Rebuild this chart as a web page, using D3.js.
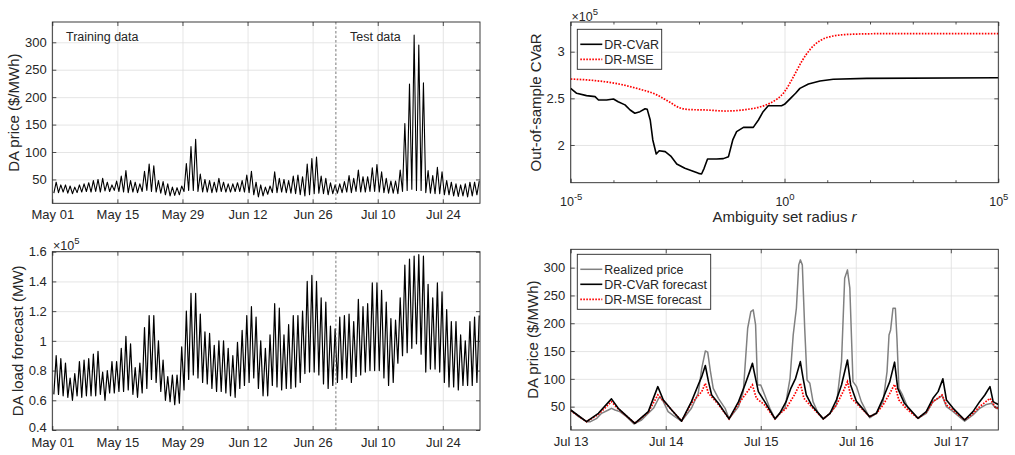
<!DOCTYPE html>
<html><head><meta charset="utf-8">
<script src="https://cdn.jsdelivr.net/npm/d3@7"></script>
<style>body{margin:0;background:#fff}svg{display:block}</style>
</head><body><svg id="c" width="1015" height="455"></svg>
<script>
// ================= DATA =================
// Panel 1/2: daily troughs & peaks, day 0 = May 01
const dateTickLabels = ["May 01","May 15","May 29","Jun 12","Jun 26","Jul 10","Jul 24"];
const splitLabelTrain = "Training data";
const splitLabelTest = "Test data";
const pricePeaks = [45,40,40,38,36,40,42,44,48,50,52,45,40,47,
 56,66,48,45,42,65,78,75,48,46,42,36,35,38,
 79,110,123,60,50,48,45,52,45,42,42,44,48,58,
 65,45,40,36,38,64,52,50,48,56,58,55,78,88,
 91,56,52,44,40,42,46,57,52,67,55,55,71,77,
 64,52,47,47,67,152,224,313,295,226,66,57,72,64,
 48,45,42,40,42,45,45,47];
const priceTroughs = [25,26,27,25,24,26,27,28,27,28,27,29,28,30,
 28,27,26,27,26,28,30,28,27,25,22,20,21,22,
 28,30,30,28,27,27,26,27,28,27,27,28,28,27,
 26,22,18,20,23,26,26,27,26,25,24,22,20,22,
 24,25,24,22,24,25,26,27,26,28,27,27,28,28,
 27,26,25,25,24,28,30,32,30,30,26,25,24,24,
 22,22,20,19,20,18,20,22];
const priceYTicks = [50,100,150,200,250,300];
const loadPeaks = [0.90,0.88,0.85,0.75,0.78,0.86,0.87,0.88,0.91,0.93,0.79,0.80,0.86,0.86,
 0.95,1.03,0.98,0.82,0.85,1.09,1.17,1.17,1.00,0.87,0.76,0.77,0.77,0.96,
 1.20,1.32,1.32,1.18,1.06,1.05,0.97,1.00,1.00,0.95,0.90,0.99,1.07,1.17,
 1.23,1.16,1.00,0.95,1.04,1.25,1.22,1.04,1.11,1.17,1.17,1.20,1.40,1.44,
 1.40,1.29,1.26,1.10,1.08,1.16,1.17,1.18,1.13,1.28,1.23,1.25,1.39,1.39,
 1.34,1.26,1.15,1.14,1.29,1.51,1.55,1.57,1.58,1.57,1.38,1.29,1.39,1.33,
 1.21,1.13,1.13,1.04,1.00,1.13,1.16,1.17];
const loadTroughs = [0.64,0.64,0.63,0.62,0.60,0.63,0.62,0.63,0.63,0.63,0.64,0.60,0.65,0.65,
 0.66,0.66,0.67,0.64,0.62,0.65,0.68,0.74,0.72,0.66,0.60,0.59,0.57,0.58,
 0.67,0.74,0.77,0.75,0.72,0.71,0.68,0.66,0.66,0.65,0.63,0.62,0.68,0.70,
 0.72,0.75,0.68,0.63,0.63,0.70,0.69,0.67,0.68,0.68,0.69,0.72,0.78,0.79,
 0.79,0.77,0.71,0.68,0.70,0.72,0.74,0.75,0.72,0.76,0.77,0.79,0.80,0.80,
 0.80,0.75,0.70,0.72,0.85,0.90,0.92,0.95,0.98,0.91,0.79,0.81,0.81,0.79,
 0.72,0.69,0.69,0.67,0.70,0.70,0.70,0.72];
const loadYTicks = [0.4,0.6,0.8,1,1.2,1.4,1.6];

// Panel 3: out-of-sample CVaR (x10^5) vs log10(radius)
const cvarRExp = [-5,-4.86,-4.63,-4.43,-4.35,-4.16,-4.0,-3.89,-3.73,-3.61,-3.5,-3.38,-3.26,-3.21,-3.14,-3.08,-3.0,-2.93,-2.79,-2.66,-2.52,-2.33,-2.17,-2.01,-1.94,-1.88,-1.8,-1.59,-1.43,-1.31,-1.21,-1.12,-0.96,-0.73,-0.61,-0.5,-0.38,-0.07,0,0.14,0.26,0.36,0.56,0.83,1.14,1.92,5];
const cvarVals = [2.607,2.554,2.529,2.518,2.482,2.482,2.493,2.464,2.43,2.375,2.34,2.357,2.389,2.382,2.268,2.054,1.904,1.939,1.929,1.882,1.796,1.75,1.725,1.696,1.689,1.75,1.85,1.85,1.854,1.875,2.054,2.143,2.189,2.189,2.268,2.357,2.421,2.421,2.436,2.5,2.554,2.607,2.654,2.686,2.704,2.714,2.721];
const mseRExp = [-5,-4.43,-3.95,-3.4,-3.0,-2.69,-2.46,-2.23,-1.84,-1.37,-0.9,-0.56,-0.33,0,0.21,0.4,0.6,0.83,1.14,1.53,2.31,5];
const mseVals = [2.707,2.69,2.66,2.60,2.54,2.46,2.40,2.38,2.375,2.364,2.38,2.41,2.45,2.571,2.732,2.893,3.025,3.118,3.168,3.186,3.193,3.193];
const cvarYTicks = [2,2.5,3];
const radiusTickExp = [-5,0,5];
const radiusMinorExp = [-4,-3,-2,-1,1,2,3,4];
const legend3 = ["DR-CVaR","DR-MSE"];

// Panel 4: forecasts, x in axis-hours from Jul 13
const fcTickLabels = ["Jul 13","Jul 14","Jul 15","Jul 16","Jul 17"];
const realized = [[0,44],[2,32],[4,23],[5,23],[6.6,29],[7.8,38],[9.5,44],[10.3,47],[11.2,44],[12.4,41],[14.1,32],[16,19],[17.9,26],[19.6,38],[20.9,47],[22,62],[22.5,68],[23.4,59],[24.6,41],[26.3,32],[28,24],
 [30.5,47],[32.2,74],[33.1,119],[34,150],[34.6,148],[35.3,113],[36,83],[37.3,65],[39,47],[40,28],
 [42.4,50],[43.6,77],[44.7,191],[45.5,221],[46.1,224],[46.7,197],[47.2,89],[48,89],[49,71],[50.3,47],[51.6,28],
 [52.8,38],[54.1,47],[55.4,101],[56.2,179],[57,227],[57.6,305],[58,314],[58.5,305],[59.1,191],[59.7,98],[60.4,92],[61.2,59],[62.5,38],[63.8,28],
 [65.5,38],[67.1,53],[68.4,131],[69.2,281],[69.9,296],[70.5,263],[71.3,95],[72.2,86],[73.4,59],[75.5,30],
 [77.2,38],[78.9,59],[79.9,113],[80.4,179],[80.8,188],[81.4,227],[82,227],[82.4,173],[82.9,83],[83.8,71],[85.2,47],[87.7,29],
 [89.8,38],[91.5,59],[92.8,65],[93.8,70],[94.9,50],[96.6,41],[99.5,24],
 [101.6,35],[103.3,47],[105,54],[106.3,56],[107.4,47],[108,46]];
const cvarForecast = [[0,44],[4,23],[7,38],[10.3,64],[12,47],[16.2,20],[19.6,41],[22,86],[23.4,62],[25.5,44],[28,24],
 [30.5,59],[32.2,89],[33.1,104],[34,124],[34.8,95],[35.6,71],[37.3,56],[40,28],
 [42.4,59],[44,89],[45.2,113],[45.9,128],[46.5,107],[47.4,77],[49,59],[51.6,28],
 [52.8,38],[54.4,59],[55.6,83],[56.8,101],[58,131],[58.7,101],[59.5,71],[60.8,53],[63.8,28],
 [65.5,38],[67.1,62],[68.4,89],[69.9,134],[70.7,89],[72.2,59],[75.5,32],
 [77.2,38],[78.9,65],[80.6,95],[81.8,130],[82.6,83],[84.3,56],[87.7,29],
 [89.8,41],[91.5,65],[92.8,77],[94,100],[94.9,62],[96.6,47],[99.5,26],
 [101.6,41],[103.3,59],[104.6,71],[105.9,86],[106.7,59],[107.4,56],[108,54]];
const mseForecast = [[0,43],[4,23],[7,36],[10.3,59],[12,46],[16.2,20],[19.6,40],[22,71],[24,56],[25.5,44],[28,24],
 [30.5,56],[33.1,77],[34,92],[34.8,74],[37.3,54],[40,28],
 [42.4,55],[44,71],[45.9,89],[46.9,65],[49,53],[51.6,28],
 [52.8,37],[54.4,47],[56.5,71],[58,92],[58.9,65],[60.4,53],[63.8,28],
 [65.5,38],[67.1,53],[68.8,77],[69.9,95],[70.9,65],[73,50],[75.5,32],
 [77.2,38],[78.9,53],[80.6,74],[81.8,90],[82.9,62],[84.7,47],[87.7,29],
 [89.8,40],[91.5,59],[93.8,71],[94.9,53],[96.6,44],[99.5,26],
 [101.6,38],[103.3,50],[105.9,65],[107.4,47],[108,48]];
const legend4 = ["Realized price","DR-CVaR forecast","DR-MSE forecast"];

// ================= DRAWING =================
const svg = d3.select("#c");
const font = '"Liberation Sans", Arial, Helvetica, sans-serif';
const ink = "#262626", gridCol = "#dedede", red = "#ff0000", gray = "#808080";
let clipN = 0;

function panel(p, x, y, o) {
  const w = p.x1 - p.x0, h = p.y1 - p.y0;
  const id = "clip" + (++clipN);
  svg.append("clipPath").attr("id", id).append("rect")
    .attr("x", p.x0).attr("y", p.y0).attr("width", w).attr("height", h);
  const gGrid = svg.append("g");
  const gData = svg.append("g").attr("clip-path", `url(#${id})`);
  const gAx = svg.append("g");
  if (o.xGrid) gGrid.append("g").attr("transform", `translate(0,${p.y1})`)
    .call(d3.axisBottom(x).tickValues(o.xGrid).tickSize(-h).tickFormat(""));
  gGrid.append("g").attr("transform", `translate(${p.x0},0)`)
    .call(d3.axisLeft(y).tickValues(o.yTicks).tickSize(-w).tickFormat(""));
  gGrid.selectAll(".domain").remove();
  gGrid.selectAll("line").attr("stroke", gridCol).attr("stroke-width", 0.8);

  const bx = gAx.append("g").attr("transform", `translate(0,${p.y1})`)
    .call(d3.axisBottom(x).tickValues(o.xTicks).tickSize(-4).tickPadding(o.xPad).tickFormat(o.xFmt));
  gAx.append("g").attr("transform", `translate(0,${p.y0})`)
    .call(d3.axisTop(x).tickValues(o.xTicks).tickSize(-4).tickFormat(""));
  if (o.xMinor) {
    gAx.append("g").attr("transform", `translate(0,${p.y1})`)
      .call(d3.axisBottom(x).tickValues(o.xMinor).tickSize(-2.5).tickFormat(""));
    gAx.append("g").attr("transform", `translate(0,${p.y0})`)
      .call(d3.axisTop(x).tickValues(o.xMinor).tickSize(-2.5).tickFormat(""));
  }
  const ly = gAx.append("g").attr("transform", `translate(${p.x0},0)`)
    .call(d3.axisLeft(y).tickValues(o.yTicks).tickSize(-4).tickPadding(o.yPad).tickFormat(o.yFmt));
  gAx.append("g").attr("transform", `translate(${p.x1},0)`)
    .call(d3.axisRight(y).tickValues(o.yTicks).tickSize(-4).tickFormat(""));
  gAx.selectAll(".domain").remove();
  gAx.selectAll("line").attr("stroke", ink).attr("stroke-width", 0.8);
  gAx.selectAll("g").attr("font-family", font);
  gAx.selectAll("text").attr("fill", ink).attr("font-size", 13).style("font-family", font);
  gAx.append("rect").attr("x", p.x0).attr("y", p.y0).attr("width", w).attr("height", h)
    .attr("fill", "none").attr("stroke", ink).attr("stroke-width", 0.9);
  return { gData, gAx, bx, ly };
}

function yLabel(txt, x, cy) {
  svg.append("text").attr("transform", `translate(${x},${cy}) rotate(-90)`)
    .attr("text-anchor", "middle").attr("font-size", 15).attr("fill", ink)
    .style("font-family", font).text(txt);
}
function multiplier(x, y) {
  const t = svg.append("text").attr("x", x).attr("y", y).attr("font-size", 12.5)
    .attr("fill", ink).style("font-family", font).text("\u00d710");
  t.append("tspan").attr("dy", -6).attr("font-size", 9.5).text("5");
}

// ---------- Panel 1: price ----------
const start = new Date(2016, 4, 1);
const end = new Date(2016, 7, 1);
const splitDate = new Date(2016, 6, 1);
const dateTicks = dateTickLabels.map((_, i) => d3.timeDay.offset(start, 14 * i));
const fmtDate = d3.timeFormat("%b %d");
function dailySeries(tr, pk) {
  const pts = [];
  tr.forEach((v, i) => {
    const d = d3.timeDay.offset(start, i);
    pts.push([d3.timeHour.offset(d, 8), v]);
    pts.push([d3.timeHour.offset(d, 20), pk[i]]);
  });
  return pts;
}
const P1 = { x0: 52.3, x1: 480, y0: 22, y1: 203.3 };
const x1s = d3.scaleTime().domain([start, end]).range([P1.x0, P1.x1]);
const y1s = d3.scaleLinear().domain([6.5, 337]).range([P1.y1, P1.y0]);
const a1 = panel(P1, x1s, y1s, { xTicks: dateTicks, xGrid: dateTicks, xPad: 6, xFmt: fmtDate,
  yTicks: priceYTicks, yPad: 5.5, yFmt: d3.format("d") });
a1.gData.append("path").datum(dailySeries(priceTroughs, pricePeaks))
  .attr("d", d3.line().x(d => x1s(d[0])).y(d => y1s(d[1])))
  .attr("fill", "none").attr("stroke", "#000").attr("stroke-width", 1.1).attr("stroke-linejoin", "round");
a1.gData.append("line").attr("x1", x1s(splitDate)).attr("x2", x1s(splitDate))
  .attr("y1", P1.y0).attr("y2", P1.y1).attr("stroke", "#555").attr("stroke-width", 0.8)
  .attr("stroke-dasharray", "2.5,2");
svg.append("text").attr("x", 66).attr("y", 41).attr("font-size", 12.5).attr("fill", ink)
  .style("font-family", font).text(splitLabelTrain);
svg.append("text").attr("x", 350).attr("y", 41).attr("font-size", 12.5).attr("fill", ink)
  .style("font-family", font).text(splitLabelTest);
yLabel("DA price ($/MWh)", 19, (P1.y0 + P1.y1) / 2);

// ---------- Panel 2: load ----------
const P2 = { x0: 52.3, x1: 480, y0: 251.7, y1: 430 };
const x2s = d3.scaleTime().domain([start, end]).range([P2.x0, P2.x1]);
const y2s = d3.scaleLinear().domain([0.4, 1.6]).range([P2.y1, P2.y0]);
const a2 = panel(P2, x2s, y2s, { xTicks: dateTicks, xGrid: dateTicks, xPad: 8, xFmt: fmtDate,
  yTicks: loadYTicks, yPad: 5.5, yFmt: d3.format("~g") });
// lift the bottom-most y label slightly so it clears the first date label
a2.ly.selectAll(".tick text").filter(d => d === loadYTicks[0]).attr("y", -2.5);
a2.gData.append("path").datum(dailySeries(loadTroughs, loadPeaks))
  .attr("d", d3.line().x(d => x2s(d[0])).y(d => y2s(d[1])))
  .attr("fill", "none").attr("stroke", "#000").attr("stroke-width", 1.2).attr("stroke-linejoin", "round");
a2.gData.append("line").attr("x1", x2s(splitDate)).attr("x2", x2s(splitDate))
  .attr("y1", P2.y0).attr("y2", P2.y1).attr("stroke", "#555").attr("stroke-width", 0.8)
  .attr("stroke-dasharray", "2.5,2");
multiplier(53, 250);
yLabel("DA load forecast (MW)", 23, (P2.y0 + P2.y1) / 2);

// ---------- Panel 3: CVaR vs radius ----------
const P3 = { x0: 570.7, x1: 998.3, y0: 22, y1: 182.7 };
const x3s = d3.scaleLog().domain([1e-5, 1e5]).range([P3.x0, P3.x1]);
const y3s = d3.scaleLinear().domain([1.596, 3.318]).range([P3.y1, P3.y0]);
const a3 = panel(P3, x3s, y3s, { xTicks: radiusTickExp.map(e => Math.pow(10, e)),
  xGrid: radiusTickExp.map(e => Math.pow(10, e)), xMinor: radiusMinorExp.map(e => Math.pow(10, e)),
  xPad: 14.5, xFmt: () => "10", yTicks: cvarYTicks, yPad: 6, yFmt: d3.format("~g") });
a3.bx.selectAll(".tick text").attr("font-size", 12.5).each(function (d, i) {
  d3.select(this).append("tspan").attr("dy", -6).attr("font-size", 9.5).text(String(radiusTickExp[i]));
});
a3.gData.append("path").datum(mseRExp.map((e, i) => [e, mseVals[i]]))
  .attr("d", d3.line().x(d => x3s(Math.pow(10, d[0]))).y(d => y3s(d[1])).curve(d3.curveMonotoneX))
  .attr("fill", "none").attr("stroke", red)
  .attr("stroke-width", 1.7).attr("stroke-dasharray", "1.6,1.4");
a3.gData.append("path").datum(cvarRExp.map((e, i) => [e, cvarVals[i]]))
  .attr("d", d3.line().x(d => x3s(Math.pow(10, d[0]))).y(d => y3s(d[1])))
  .attr("fill", "none").attr("stroke", "#000").attr("stroke-width", 1.6).attr("stroke-linejoin", "round");
multiplier(571.5, 21);
yLabel("Out-of-sample CVaR", 541, (P3.y0 + P3.y1) / 2);
const xl = svg.append("text").attr("x", (P3.x0 + P3.x1) / 2).attr("y", 222).attr("text-anchor", "middle")
  .attr("font-size", 15).attr("fill", ink).style("font-family", font).text("Ambiguity set radius  ");
xl.append("tspan").attr("font-style", "italic").text("r");

function legend(x, y, w, rowH, items) {
  const g = svg.append("g");
  g.append("rect").attr("x", x).attr("y", y).attr("width", w).attr("height", rowH * items.length + 10)
    .attr("fill", "#fff").attr("stroke", ink).attr("stroke-width", 0.9);
  items.forEach((it, i) => {
    const cy = y + 8.5 + rowH * (i + 0.5) - 1;
    g.append("line").attr("x1", x + 3).attr("x2", x + 25).attr("y1", cy).attr("y2", cy)
      .attr("stroke", it.c).attr("stroke-width", it.w).attr("stroke-dasharray", it.dash || null);
    g.append("text").attr("x", x + 27).attr("y", cy + 4.5).attr("font-size", 12.5).attr("fill", ink)
      .style("font-family", font).text(it.t);
  });
}
legend(577.3, 29.3, 84.4, 15, [
  { t: legend3[0], c: "#000", w: 1.6 },
  { t: legend3[1], c: red, w: 1.7, dash: "1.6,1.4" }]);

// ---------- Panel 4: forecasts ----------
const P4 = { x0: 570.7, x1: 998.3, y0: 249.3, y1: 430 };
const fcTicks = fcTickLabels.map((_, i) => 24 * i);
const x4s = d3.scaleLinear().domain([0, 108]).range([P4.x0, P4.x1]);
const y4s = d3.scaleLinear().domain([8, 333]).range([P4.y1, P4.y0]);
const a4 = panel(P4, x4s, y4s, { xTicks: fcTicks, xGrid: fcTicks, xPad: 7,
  xFmt: (d, i) => fcTickLabels[i], yTicks: priceYTicks, yPad: 5.5, yFmt: d3.format("d") });
const line4 = d3.line().x(d => x4s(d[0])).y(d => y4s(d[1]));
a4.gData.append("path").datum(realized).attr("d", line4).attr("fill", "none")
  .attr("stroke", gray).attr("stroke-width", 1.5).attr("stroke-linejoin", "round");
a4.gData.append("path").datum(mseForecast).attr("d", line4).attr("fill", "none")
  .attr("stroke", red).attr("stroke-width", 1.7).attr("stroke-dasharray", "1.6,1.4");
a4.gData.append("path").datum(cvarForecast).attr("d", line4).attr("fill", "none")
  .attr("stroke", "#000").attr("stroke-width", 1.6).attr("stroke-linejoin", "round");
yLabel("DA price ($/MWh)", 538, (P4.y0 + P4.y1) / 2);
legend(577.3, 254.3, 133.4, 15, [
  { t: legend4[0], c: gray, w: 1.5 },
  { t: legend4[1], c: "#000", w: 1.6 },
  { t: legend4[2], c: red, w: 1.7, dash: "1.6,1.4" }]);
</script></body></html>
